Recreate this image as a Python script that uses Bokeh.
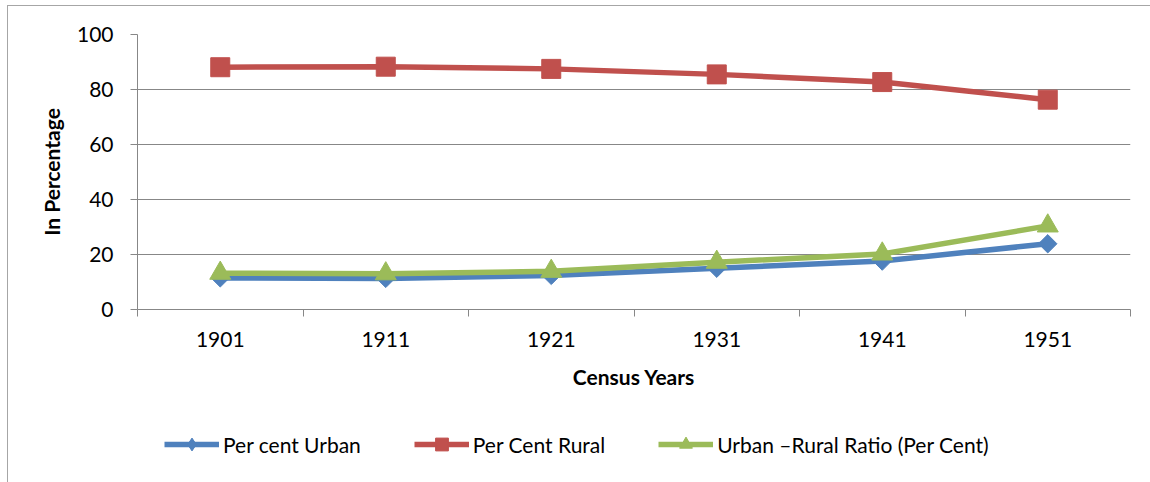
from bokeh.plotting import figure
from bokeh.layouts import column
from bokeh.models import FixedTicker, Legend, LegendItem, Range1d
from bokeh.embed import file_html
from bokeh.resources import INLINE
import math

years = ["1901", "1911", "1921", "1931", "1941", "1951"]
per_cent_urban = [11.5, 11.3, 12.4, 15.0, 17.6, 23.9]
per_cent_rural = [88.1, 88.3, 87.5, 85.5, 82.7, 76.3]
urban_rural_ratio = [13.2, 13.0, 13.9, 17.2, 20.2, 30.4]
series_names = ["Per cent Urban", "Per Cent Rural", "Urban \u2013Rural Ratio (Per Cent)"]
y_ticks = [0, 20, 40, 60, 80, 100]

FONT = "Lato"
FS = "21px"
GRAY = "#878787"
BLUE, RED, GREEN = "#4F81BD", "#C0504D", "#9BBB59"
x = [i + 0.5 for i in range(len(years))]

p = figure(width=1142, height=395, output_backend="svg", toolbar_location=None,
           x_range=Range1d(0, len(years)), y_range=Range1d(0, 100),
           min_border_left=129, min_border_right=20, min_border_top=28, min_border_bottom=92)
p.outline_line_color = None

# x axis: labels centred in categories, tick marks on category boundaries
p.xaxis.ticker = FixedTicker(ticks=x, minor_ticks=list(range(len(years) + 1)))
p.xaxis.major_label_overrides = {xi: y for xi, y in zip(x, years)}
p.xaxis.major_tick_line_color = None
p.xaxis.minor_tick_line_color = GRAY
p.xaxis.minor_tick_out = 7
p.xaxis.minor_tick_in = 0
p.xaxis.axis_line_color = GRAY
p.xaxis.major_label_standoff = 15
p.xaxis.major_label_text_font = FONT
p.xaxis.major_label_text_font_size = FS
p.xaxis.major_label_text_color = "black"
p.xaxis.axis_label = "Census Years"
p.xaxis.axis_label_text_font = FONT
p.xaxis.axis_label_text_font_size = FS
p.xaxis.axis_label_text_font_style = "bold"
p.xaxis.axis_label_text_color = "black"
p.xaxis.axis_label_standoff = 14

# y axis
p.yaxis.ticker = FixedTicker(ticks=y_ticks)
p.yaxis.major_tick_line_color = GRAY
p.yaxis.major_tick_out = 7
p.yaxis.major_tick_in = 0
p.yaxis.minor_tick_line_color = None
p.yaxis.axis_line_color = GRAY
p.yaxis.major_label_standoff = 17
p.yaxis.major_label_text_font = FONT
p.yaxis.major_label_text_font_size = FS
p.yaxis.major_label_text_color = "black"
p.yaxis.axis_label = "In Percentage"
p.yaxis.axis_label_text_font = FONT
p.yaxis.axis_label_text_font_size = FS
p.yaxis.axis_label_text_font_style = "bold"
p.yaxis.axis_label_text_color = "black"
p.yaxis.axis_label_standoff = 10

p.xgrid.grid_line_color = None
p.ygrid.ticker = FixedTicker(ticks=y_ticks)
p.ygrid.grid_line_color = GRAY
p.ygrid.grid_line_width = 1

p.line(x, per_cent_urban, line_color=BLUE, line_width=5.5)
p.scatter(x, per_cent_urban, marker="square", size=13, angle=math.pi / 4,
          fill_color=BLUE, line_color=BLUE)
p.line(x, per_cent_rural, line_color=RED, line_width=5.5)
p.scatter(x, per_cent_rural, marker="square", size=19, fill_color=RED, line_color=RED)
p.line(x, urban_rural_ratio, line_color=GREEN, line_width=5.5)
p.scatter(x, urban_rural_ratio, marker="triangle", size=21, fill_color=GREEN, line_color=GREEN)

# legend strip below the chart (its own renderers sit outside its visible range)
lf = figure(width=1142, height=81, output_backend="svg", toolbar_location=None,
            x_range=Range1d(100, 101), y_range=Range1d(0, 1),
            x_axis_location=None, y_axis_location=None,
            min_border_left=0, min_border_right=0, min_border_top=0, min_border_bottom=0)
lf.outline_line_color = None
lf.grid.grid_line_color = None

la = lf.line(x, per_cent_urban, line_color=BLUE, line_width=5.5)
ma = lf.scatter(x, per_cent_urban, marker="diamond", fill_color=BLUE, line_color=BLUE)
lb = lf.line(x, per_cent_rural, line_color=RED, line_width=5.5)
mb = lf.scatter(x, per_cent_rural, marker="square", fill_color=RED, line_color=RED)
lc = lf.line(x, urban_rural_ratio, line_color=GREEN, line_width=5.5)
mc = lf.scatter(x, urban_rural_ratio, marker="triangle", fill_color=GREEN, line_color=GREEN)

legend = Legend(items=[
    LegendItem(label=series_names[0], renderers=[la, ma]),
    LegendItem(label=series_names[1], renderers=[lb, mb]),
    LegendItem(label=series_names[2], renderers=[lc, mc]),
], orientation="horizontal", location=(27, 22), padding=0, margin=0,
    spacing=53, glyph_width=55, glyph_height=32, label_standoff=4,
    border_line_color=None, background_fill_alpha=0,
    label_text_font=FONT, label_text_font_size=FS, label_text_color="black")
lf.add_layout(legend, "center")

layout = column(p, lf, spacing=0,
                styles={"margin-left": "7px", "margin-top": "5px",
                        "border-left": "1px solid #a6a6a6", "border-top": "1px solid #a6a6a6"})

open("out.html", "w").write(file_html(layout, INLINE))
